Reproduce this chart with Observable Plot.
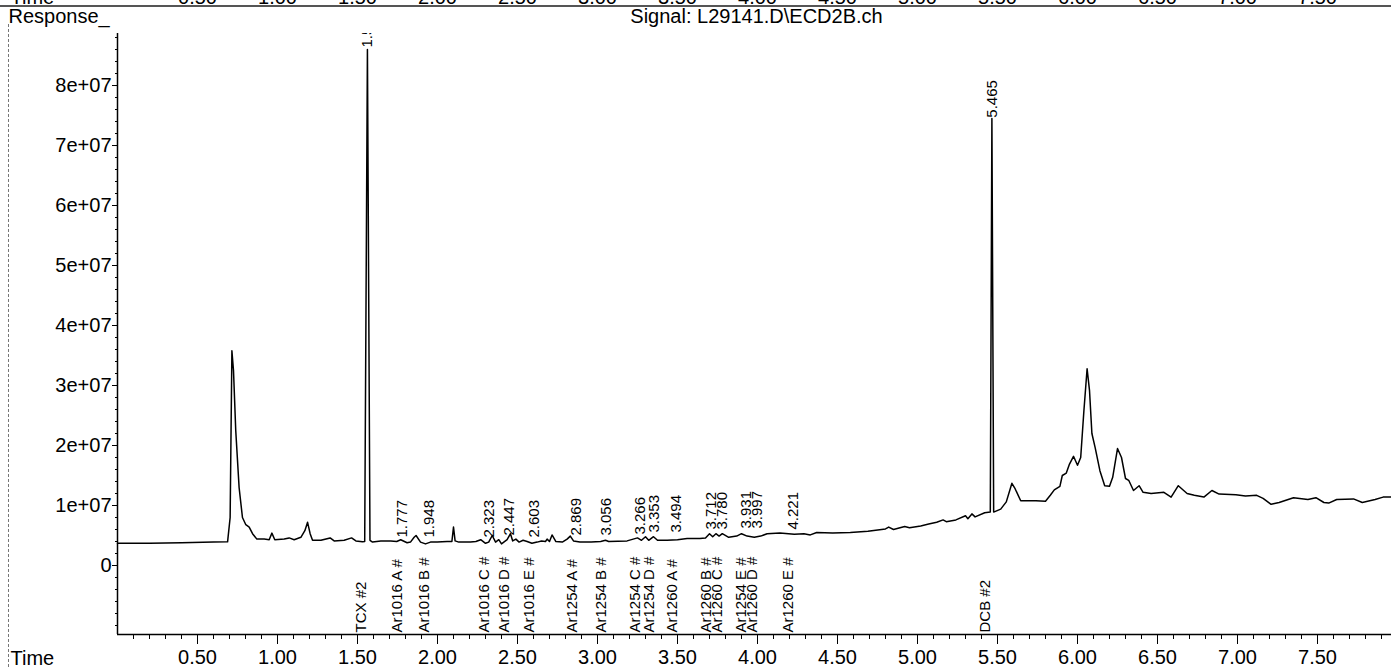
<!DOCTYPE html>
<html><head><meta charset="utf-8">
<script src="https://cdn.jsdelivr.net/npm/d3@7"></script>
<script src="https://cdn.jsdelivr.net/npm/@observablehq/plot@0.6"></script>
<style>
html,body{margin:0;padding:0;background:#fff;}
#wrap{position:relative;width:1391px;height:667px;overflow:hidden;}
#wrap svg{position:absolute;left:0;top:0;}
#hdr{position:absolute;left:0;top:5px;width:1391px;height:0;border-top:2px solid #555;}
#border{position:absolute;left:8px;top:24px;height:643px;border-left:1px dashed #777;}
</style></head><body><div id="wrap"><div id="hdr"></div><div id="border"></div></div>
<script>
// ---- data ----
const signalTime = [0.000,0.200,0.400,0.600,0.688,0.704,0.715,0.725,0.739,0.760,
0.781,0.802,0.823,0.844,0.871,0.917,0.948,0.965,0.983,1.042,
1.073,1.104,1.146,1.171,1.188,1.204,1.219,1.271,1.329,1.354,
1.417,1.463,1.490,1.531,1.545,1.562,1.578,1.594,1.646,1.708,
1.745,1.770,1.810,1.831,1.854,1.866,1.894,1.925,1.956,1.998,
2.060,2.090,2.100,2.110,2.133,2.206,2.240,2.270,2.300,2.320,
2.342,2.363,2.383,2.400,2.435,2.456,2.470,2.490,2.510,2.535,
2.560,2.590,2.623,2.650,2.675,2.685,2.700,2.716,2.740,2.780,
2.810,2.830,2.850,2.890,2.960,3.020,3.050,3.070,3.185,3.250,
3.275,3.300,3.320,3.350,3.375,3.435,3.500,3.560,3.640,3.675,
3.700,3.720,3.740,3.760,3.780,3.820,3.870,3.900,3.935,3.980,
4.020,4.060,4.140,4.230,4.290,4.330,4.370,4.470,4.580,4.690,
4.800,4.820,4.850,4.920,4.950,5.020,5.070,5.120,5.160,5.180,
5.240,5.300,5.315,5.340,5.360,5.420,5.455,5.465,5.476,5.520,
5.555,5.590,5.610,5.645,5.675,5.740,5.800,5.830,5.855,5.890,
5.905,5.930,5.950,5.975,6.000,6.020,6.040,6.060,6.075,6.090,
6.110,6.140,6.170,6.200,6.220,6.250,6.275,6.300,6.320,6.350,
6.385,6.410,6.460,6.540,6.585,6.630,6.685,6.730,6.790,6.840,
6.885,6.990,7.050,7.120,7.160,7.210,7.260,7.350,7.440,7.490,
7.540,7.570,7.620,7.725,7.780,7.860,7.910,7.960];
// response in millions of counts
const signalResponseM = [3.70,3.72,3.78,3.90,3.95,8.0,35.8,32.5,22.5,13.0,
8.0,6.8,6.4,5.3,4.4,4.4,4.3,5.4,4.3,4.4,
4.6,4.3,4.7,5.8,7.2,5.3,4.2,4.2,4.6,4.1,
4.2,4.6,4.1,3.95,4.0,86.0,4.2,3.9,4.1,4.1,
4.0,4.3,3.8,3.9,4.7,5.0,3.9,3.6,3.9,3.9,
4.0,4.0,6.4,4.1,3.9,3.9,4.0,4.3,3.7,3.9,
5.0,3.9,4.3,3.6,4.3,5.3,4.1,4.4,3.9,4.2,
4.0,3.7,3.9,4.1,4.0,4.4,4.0,5.1,4.0,3.9,
4.4,4.9,4.1,3.9,3.9,4.0,4.2,4.0,4.1,4.6,
4.2,4.8,4.2,4.8,4.2,4.2,4.3,4.5,4.5,4.6,
5.3,4.8,5.3,4.9,5.3,4.7,4.9,5.3,4.9,4.7,
4.9,5.3,5.4,5.2,5.3,5.1,5.5,5.4,5.5,5.7,
6.1,6.4,6.0,6.5,6.3,6.6,6.9,7.2,7.6,7.3,
7.6,8.3,7.8,8.6,8.1,8.8,8.9,74.5,8.9,9.4,
10.6,13.7,12.8,10.8,10.8,10.8,10.7,11.7,12.6,13.2,
15.0,15.4,16.9,18.2,16.7,18.0,25.8,32.8,29.2,22.0,
19.7,15.8,13.3,13.2,14.7,19.5,18.0,14.5,14.2,12.5,
13.3,12.2,12.0,12.2,11.4,13.3,12.0,11.7,11.4,12.5,
11.9,11.8,11.6,11.7,11.2,10.2,10.5,11.3,11.0,11.3,
10.5,10.4,11.0,11.1,10.5,11.0,11.4,11.4];

const peakTimes  = [1.562,1.777,1.948,2.323,2.447,2.603,2.869,3.056,3.266,3.353,3.494,3.712,3.780,3.931,3.997,4.221,5.465];
const peakLabels = ["1.562","1.777","1.948","2.323","2.447","2.603","2.869","3.056","3.266","3.353","3.494","3.712","3.780","3.931","3.997","4.221","5.465"];
const peakHeightsM = [86.0,4.33,4.33,4.33,4.67,4.33,4.67,4.67,4.83,5.17,5.17,5.67,5.67,5.83,5.83,5.67,74.3];

const compoundTimes = [1.553,1.777,1.948,2.323,2.447,2.603,2.869,3.056,3.266,3.353,3.494,3.712,3.780,3.931,3.997,4.221,5.450];
const compoundNames = ["TCX #2","Ar1016 A #","Ar1016 B #","Ar1016 C #","Ar1016 D #","Ar1016 E #","Ar1254 A #","Ar1254 B #","Ar1254 C #","Ar1254 D #","Ar1260 A #","Ar1260 B #","Ar1260 C #","Ar1254 E #","Ar1260 D #","Ar1260 E #","DCB #2"];

const xTicks = [0.5,1.0,1.5,2.0,2.5,3.0,3.5,4.0,4.5,5.0,5.5,6.0,6.5,7.0,7.5];
const yTicks = [0,1e7,2e7,3e7,4e7,5e7,6e7,7e7,8e7];
const yTickLabels = ["0","1e+07","2e+07","3e+07","4e+07","5e+07","6e+07","7e+07","8e+07"];

const titleLeft = "Response_";
const titleSignal = "Signal: L29141.D\\ECD2B.ch";
const xTitle = "Time";

// ---- tables built from the arrays ----
const signal = signalTime.map((t, i) => ({t, v: signalResponseM[i] * 1e6}));
const peaks = peakTimes.map((t, i) => ({t, v: peakHeightsM[i] * 1e6, label: peakLabels[i]}));
const compounds = compoundTimes.map((t, i) => ({t, name: compoundNames[i]}));
const xMinor = d3.range(1, 80).map(k => k / 10);
const yMinor = d3.range(-5, 45).map(k => k * 2e6);

const X_DOMAIN = [0, 7.9625];
const Y_DOMAIN = [-1.15e7, 8.867e7];
const font = "'Liberation Sans', Arial, Helvetica, sans-serif";
const fmt2 = d3.format(".2f");

const chart = Plot.plot({
  width: 1391, height: 667,
  marginLeft: 117, marginRight: 0, marginTop: 33, marginBottom: 33,
  x: {domain: X_DOMAIN},
  y: {domain: Y_DOMAIN},
  style: {fontFamily: font, fontSize: "20px", color: "black", background: "transparent"},
  marks: [
    Plot.axisY({ticks: yMinor, tickSize: 2, tickFormat: () => "", label: null}),
    Plot.axisY({ticks: yTicks, tickSize: 5, tickPadding: 1, fontSize: 20, label: null,
      tickFormat: d => yTickLabels[yTicks.indexOf(d)]}),
    Plot.axisX({ticks: xMinor, tickSize: 5, tickFormat: () => "", label: null}),
    Plot.axisX({ticks: xTicks, tickSize: 10, tickPadding: 5, fontSize: 20, label: null, tickFormat: fmt2}),
    Plot.ruleX([X_DOMAIN[0]], {stroke: "black", strokeWidth: 1.5}),
    Plot.ruleY([Y_DOMAIN[0]], {stroke: "black", strokeWidth: 1.5}),
    Plot.line(signal, {x: "t", y: "v", stroke: "black", strokeWidth: 1.5}),
    Plot.text(peaks, {x: "t", y: "v", text: "label", rotate: -90, textAnchor: "start",
      dy: -2, fontSize: 15, fill: "black", clip: true}),
    Plot.text(compounds, {x: "t", text: "name", frameAnchor: "bottom", rotate: -90,
      textAnchor: "start", dy: -2, fontSize: 15, fill: "black"}),
    Plot.text([titleLeft], {text: d => d, frameAnchor: "top-left", lineAnchor: "top", dx: -109, dy: -25,
      textAnchor: "start", fontSize: 20}),
    Plot.text([titleSignal], {text: d => d, frameAnchor: "top", lineAnchor: "top", dx: 2, dy: -25, fontSize: 20}),
    Plot.text([xTitle], {text: d => d, frameAnchor: "bottom-left", lineAnchor: "bottom", dx: -107, dy: 30,
      textAnchor: "start", fontSize: 20}),
    // cut-off header of the previous page
    Plot.text(xTicks, {x: d => d, text: d => fmt2(d), frameAnchor: "top", lineAnchor: "top", dy: -44, fontSize: 20}),
    Plot.text([xTitle], {text: d => d, frameAnchor: "top-left", lineAnchor: "top", dx: -107, dy: -44,
      textAnchor: "start", fontSize: 20})
  ]
});
document.getElementById("wrap").prepend(chart);
</script>
</body></html>
